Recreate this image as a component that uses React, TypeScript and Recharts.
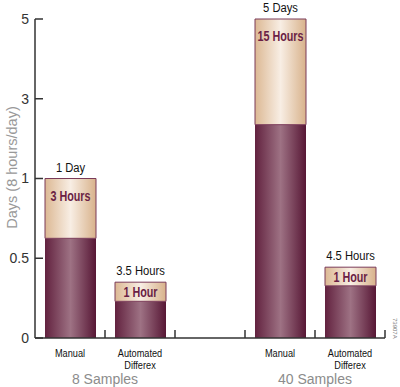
import * as React from 'react';
import { BarChart, Bar, XAxis, YAxis, LabelList, Customized } from 'recharts';

// categories on the x axis; the middle one is an empty spacer between the sample groups
const categories = ['Manual', 'Automated Differex', '', 'Manual', 'Automated Differex'];
// lower (dark) part and full bar height, in days (8 hours/day)
const baseDays = [0.625, 0.23, null, 2.35, 0.327];
const totalDays = [1, 0.35, null, 5, 0.444];
const totalLabels = ['1 Day', '3.5 Hours', '', '5 Days', '4.5 Hours'];
const addedLabels = ['3 Hours', '1 Hour', '', '15 Hours', '1 Hour'];
const sampleGroups = ['8 Samples', '40 Samples'];
const groupStart = [0, 3];
const yTickDays = [0, 0.5, 1, 3, 5];

// broken axis: 0..1 day takes two steps, 1..5 days takes the other two
const toAxis = (d: number) => (d <= 1 ? d * 2 : 2 + (d - 1) / 2);

const SANS = "'Liberation Sans', Arial, sans-serif";
const MAROON = '#6b1f45';

const rows = categories.map((name, i) => {
  const b = baseDays[i];
  const t = totalDays[i];
  return {
    key: 'c' + i,
    name,
    base: b == null ? null : toAxis(b),
    extra: b == null || t == null ? null : toAxis(t) - toAxis(b),
    totalLabel: totalLabels[i],
    addedLabel: addedLabels[i],
  };
});

// no narrow font installed, so squeeze Liberation Sans horizontally
const Narrow = ({ x, y, size, bold, fill, sx = 0.8, children }: any) => (
  <text
    transform={`translate(${x},${y}) scale(${sx},1)`}
    textAnchor="middle"
    fontSize={size}
    fontWeight={bold ? 'bold' : 'normal'}
    fontFamily={SANS}
    fill={fill}
  >
    {children}
  </text>
);

const XTick = (props: any) => {
  const { x, y, payload } = props;
  const i = payload.index;
  const half = payload.offset || 35;
  const lines = categories[i] ? categories[i].split(' ') : [];
  const g = groupStart.indexOf(i);
  return (
    <g>
      <line x1={x + half} x2={x + half} y1={y - 8} y2={y} stroke="#333" strokeWidth={1.5} />
      {lines.map((l, k) => (
        <Narrow key={k} x={x} y={y + 19 + k * 11.5} size={11.5} fill="#111">
          {l}
        </Narrow>
      ))}
      {g >= 0 && (
        <text x={x + half} y={y + 46} textAnchor="middle" fontSize={14} fontFamily={SANS} fill="#8c8c8c">
          {sampleGroups[g]}
        </text>
      )}
    </g>
  );
};

const TopLabel = (props: any) => {
  const { x, y, width, value } = props;
  if (!value) return null;
  return (
    <Narrow x={x + width / 2} y={y - 7} size={13.5} fill="#111" sx={0.83}>
      {value}
    </Narrow>
  );
};

const InnerLabel = (props: any) => {
  const { x, y, width, height, value } = props;
  if (!value || !height) return null;
  const ty = height < 30 ? y + height / 2 + 5 : y + 22;
  return (
    <Narrow x={x + width / 2} y={ty} size={14} bold fill={MAROON} sx={0.77}>
      {value}
    </Narrow>
  );
};

const YTitle = (props: any) => {
  const vb = props.viewBox;
  const cy = vb.y + vb.height / 2 - 11;
  return (
    <text x={12} y={cy} transform={`rotate(-90, 12, ${cy})`} textAnchor="middle" dominantBaseline="central" fontSize={14.5} fontFamily={SANS} fill="#999">
      Days (8 hours/day)
    </text>
  );
};

export default function App() {
  return (
    <div style={{ position: 'fixed', left: 0, top: 0, background: '#fff' }}>
      <BarChart width={400} height={387} data={rows} margin={{ top: 19, right: 15, bottom: 0, left: 0 }}>
        <defs>
          <linearGradient id="darkGrad" x1="0" y1="0" x2="1" y2="0">
            <stop offset="0%" stopColor="#62223f" />
            <stop offset="50%" stopColor="#9e7284" />
            <stop offset="100%" stopColor="#571735" />
          </linearGradient>
          <linearGradient id="lightGrad" x1="0" y1="0" x2="1" y2="0">
            <stop offset="0%" stopColor="#dcb893" />
            <stop offset="50%" stopColor="#f8eee4" />
            <stop offset="100%" stopColor="#d8b28b" />
          </linearGradient>
        </defs>
        <XAxis
          dataKey="key"
          height={49}
          interval={0}
          tickSize={0}
          tickMargin={0}
          tickLine={false}
          tick={<XTick />}
          axisLine={{ stroke: '#333', strokeWidth: 1.5 }}
        />
        <YAxis
          width={35}
          type="number"
          domain={[0, 4]}
          ticks={yTickDays.map(toAxis)}
          tickFormatter={(v: number) => String(yTickDays[yTickDays.map(toAxis).indexOf(v)])}
          tickSize={-8}
          tickMargin={14}
          tick={{ fontSize: 14, fontFamily: SANS, fill: '#333' }}
          tickLine={{ stroke: '#333', strokeWidth: 1.5 }}
          axisLine={{ stroke: '#333', strokeWidth: 1.5 }}
          label={<YTitle />}
        />
        <Bar dataKey="base" stackId="a" barSize={51} fill="url(#darkGrad)" isAnimationActive={false} />
        <Bar dataKey="extra" stackId="a" barSize={51} fill="url(#lightGrad)" stroke="#7a3a58" strokeWidth={1} isAnimationActive={false}>
          <LabelList dataKey="totalLabel" content={<TopLabel />} />
          <LabelList dataKey="addedLabel" content={<InnerLabel />} />
        </Bar>
        <Customized
          component={() => (
            <text x={393} y={318} transform="rotate(90, 393, 318)" fontSize={6} fontFamily={SANS} fill="#777">
              73907A
            </text>
          )}
        />
      </BarChart>
    </div>
  );
}
